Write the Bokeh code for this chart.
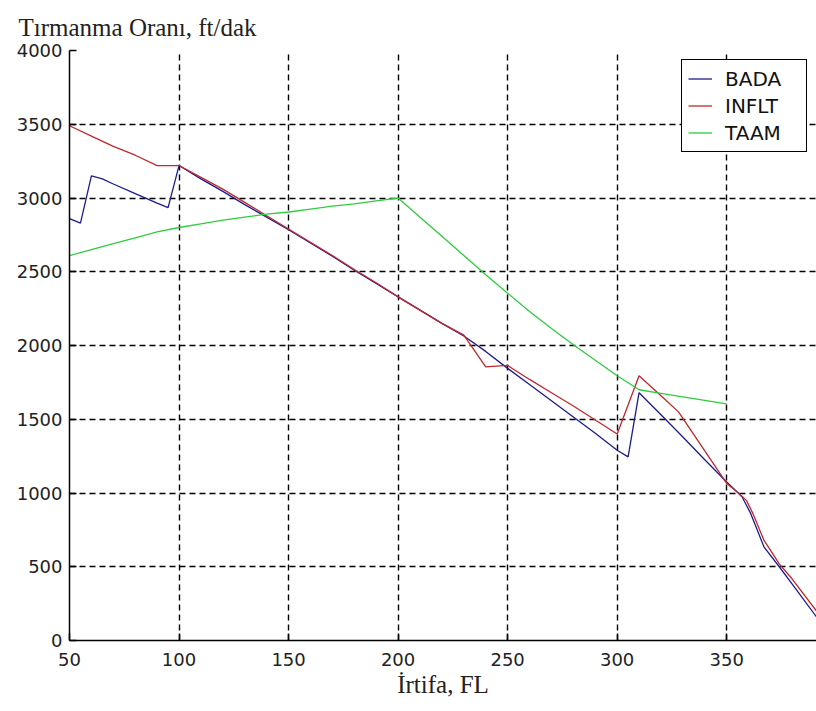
from bokeh.plotting import figure
from bokeh.models import Range1d, FixedTicker, Legend, LegendItem
from bokeh.embed import file_html
from bokeh.resources import INLINE

# ---- data ----
bada_fl = [50, 55, 60, 65, 70, 80, 90, 95, 100, 110, 120, 130, 140, 150, 160, 170, 180, 190,
           200, 210, 220, 230, 240, 250, 260, 270, 280, 290, 300, 305, 310, 320, 330, 340,
           350, 357, 361, 367, 374, 380, 391]
bada_roc = [2860, 2830, 3150, 3130, 3095, 3030, 2965, 2935, 3220, 3130, 3045, 2955, 2870, 2785,
            2695, 2605, 2510, 2420, 2330, 2240, 2150, 2065, 1960, 1845, 1735, 1625, 1515, 1405,
            1290, 1245, 1680, 1530, 1380, 1225, 1075, 975, 860, 635, 500, 380, 160]

inflt_fl = [50, 60, 70, 80, 90, 100, 110, 120, 130, 140, 150, 160, 170, 180, 190, 200, 210,
            220, 230, 240, 250, 260, 270, 280, 290, 300, 310, 320, 328, 340, 350, 355, 359,
            362, 367, 374, 380, 391]
inflt_roc = [3490, 3420, 3350, 3290, 3220, 3220, 3140, 3060, 2970, 2880, 2790, 2700, 2610, 2515,
             2425, 2330, 2240, 2150, 2070, 1855, 1865, 1770, 1680, 1590, 1495, 1400, 1795, 1660,
             1550, 1285, 1065, 1005, 950, 860, 680, 520, 415, 200]

taam_fl = [50, 60, 70, 80, 90, 100, 110, 120, 130, 140, 150, 160, 170, 180, 190, 200, 210, 220,
           230, 240, 250, 260, 270, 280, 290, 300, 310, 320, 330, 340, 350]
taam_roc = [2610, 2650, 2690, 2730, 2770, 2800, 2825, 2850, 2870, 2890, 2905, 2925, 2945, 2960,
            2980, 3000, 2870, 2740, 2610, 2480, 2355, 2230, 2115, 2005, 1900, 1795, 1700, 1676,
            1652, 1628, 1604]

x_ticks = [50, 100, 150, 200, 250, 300, 350]
y_ticks = [0, 500, 1000, 1500, 2000, 2500, 3000, 3500, 4000]

title_text = "Tırmanma Oranı, ft/dak"
x_label = "İrtifa, FL"

# ---- figure ----
p = figure(width=816, height=711, x_range=Range1d(50, 391), y_range=Range1d(0, 4000),
           output_backend="svg", toolbar_location=None,
           min_border_left=69, min_border_right=0, min_border_top=50, min_border_bottom=71)
p.outline_line_color = None
p.background_fill_color = "white"
p.border_fill_color = "white"

p.title.text = title_text
p.title.text_font = "Liberation Serif"
p.title.text_font_size = "25px"
p.title.text_font_style = "normal"
p.title.text_color = "#222222"
p.title.align = "left"
p.title.offset = -51
p.title.standoff = 20

for ax in (p.xaxis[0], p.yaxis[0]):
    ax.axis_line_color = "black"
    ax.axis_line_width = 1.5
    ax.major_tick_line_color = "black"
    ax.major_tick_line_width = 1.5
    ax.major_tick_in = 7
    ax.major_tick_out = 0
    ax.minor_tick_line_color = None
    ax.major_label_text_font = "DejaVu Sans"
    ax.major_label_text_font_size = "18px"
    ax.major_label_text_color = "#222222"

p.xaxis.ticker = FixedTicker(ticks=x_ticks)
p.yaxis.ticker = FixedTicker(ticks=y_ticks)
p.xaxis.major_label_standoff = 12
p.yaxis.major_label_standoff = 7
p.xaxis.axis_label = x_label
p.xaxis.axis_label_text_font = "Liberation Serif"
p.xaxis.axis_label_text_font_size = "25px"
p.xaxis.axis_label_text_font_style = "normal"
p.xaxis.axis_label_text_color = "#222222"
p.xaxis.axis_label_standoff = 2

p.xgrid.ticker = FixedTicker(ticks=x_ticks)
p.ygrid.ticker = FixedTicker(ticks=y_ticks)
for g in (p.xgrid[0], p.ygrid[0]):
    g.grid_line_color = "black"
    g.grid_line_alpha = 1.0
    g.grid_line_width = 1.4
    g.grid_line_dash = "6 4"

r1 = p.line(bada_fl, bada_roc, line_color="#1c1c8c", line_width=1.3)
r2 = p.line(inflt_fl, inflt_roc, line_color="#c0282d", line_width=1.3)
r3 = p.line(taam_fl, taam_roc, line_color="#2ecc40", line_width=1.3)

legend = Legend(items=[LegendItem(label="BADA", renderers=[r1]),
                       LegendItem(label="INFLT", renderers=[r2]),
                       LegendItem(label="TAAM", renderers=[r3])],
                location=(612, 488))
legend.border_line_color = "black"
legend.border_line_width = 1
legend.border_line_alpha = 1
legend.background_fill_color = "white"
legend.background_fill_alpha = 1
legend.label_text_font = "DejaVu Sans"
legend.label_text_font_size = "20px"
legend.label_text_color = "#111111"
legend.glyph_width = 24
legend.glyph_height = 25
legend.label_height = 25
legend.label_width = 75
legend.label_standoff = 13
legend.padding = 6
legend.spacing = 2
legend.margin = 0
p.add_layout(legend)

open("out.html", "w").write(file_html(p, INLINE))
